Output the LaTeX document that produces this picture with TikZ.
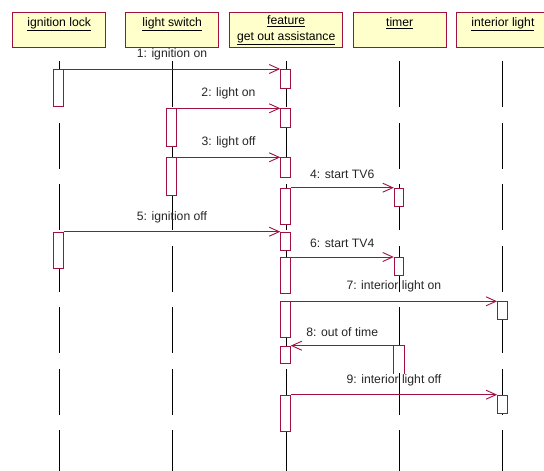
\documentclass[tikz,border=0pt]{standalone}
\usepackage{fontspec}
\setmainfont{Liberation Sans}
\usetikzlibrary{arrows.meta}
\usetikzlibrary{positioning}
\definecolor{umlred}{RGB}{160,16,64}
\definecolor{umlyellow}{RGB}{255,255,204}
\tikzset{object/.style={rectangle,draw=umlred,fill=umlyellow,line width=1.4pt,minimum width=93pt,minimum height=35pt,anchor=north west,align=center,inner sep=0pt,font=\fontsize{12.2}{16}\selectfont}}
\tikzset{lifeline/.style={draw=black,line width=0.9pt,dash pattern=on 46pt off 15.5pt}}
\tikzset{activation/.style={rectangle,draw=umlred,fill=white,line width=0.9pt,minimum width=9.5pt,inner sep=0pt,anchor=north}}
\tikzset{message/.style={draw=umlred,line width=0.9pt,-{Straight Barb[length=10pt,width=9pt]}}}
\tikzset{msg/.style={midway,above=8.5pt,inner sep=0pt,text=black!85,font=\fontsize{12.2}{14}\selectfont}}

\begin{document}
\begin{tikzpicture}[x=1pt,y=-1pt]
  \useasboundingbox (0,0) rectangle (544,471);

  % objects
  \node [object] (lock) at (12,12) {\underline{ignition lock}\\\mbox{}};
  \node [object] (switch) at (125,12) {\underline{light switch}\\\mbox{}};
  \node [object,minimum width=113pt] (feature) at (229,12)
  {
    \underline{feature}\\\underline{get out assistance}
  };
  \node [object] (timer) at (352.5,12) {\underline{timer}\\\mbox{}};
  \node [object] (light) at (455.7,12) {\underline{interior light}\\\mbox{}};

  % lifelines
  \foreach \obj in {lock,switch,feature,timer,light}
    \draw [lifeline] ([yshift=-13pt]\obj.south) -- ++(0,420);

  % activations
  \node [activation,minimum height=37.3pt] (L1) at (58.5,69) {};
  \node [activation,minimum height=36.3pt] (L2) at (58.5,231.7) {};
  \node [activation,minimum height=37.4pt] (S1) at (171.5,108.3) {};
  \node [activation,minimum height=37.7pt] (S2) at (171.5,157.3) {};
  \node [activation,minimum height=18.7pt] (F1) at (285.5,69) {};
  \node [activation,minimum height=18.5pt] (F2) at (285.5,108.3) {};
  \node [activation,minimum height=19.4pt] (F3) at (285.5,157.3) {};
  \node [activation,minimum height=36pt] (F4) at (285.5,187.7) {};
  \node [activation,minimum height=18.3pt] (F5) at (285.5,231.7) {};
  \node [activation,minimum height=36.3pt] (F6) at (285.5,257) {};
  \node [activation,minimum height=36pt] (F7) at (285.5,301.3) {};
  \node [activation,minimum height=17.6pt] (F8) at (285.5,345.7) {};
  \node [activation,minimum height=36.6pt] (F9) at (285.5,394.7) {};
  \node [activation,minimum height=18pt] (T1) at (399,187.7) {};
  \node [activation,minimum height=18pt] (T2) at (399,257) {};
  \node [activation,draw=none,minimum height=27pt] (T3) at (399,345.7) {};
  \draw [umlred,line width=0.9pt] (T3.south west) -- (T3.north west)
    -- (T3.north east) -- (T3.south east);
  \node [activation,minimum height=18pt] (I1) at (502.3,301.3) {};
  \node [activation,minimum height=18.3pt] (I2) at (502.3,394.7) {};

  % messages
  \draw [message] (L1.north east) -- (F1.north west) node [msg] {1: ignition on};
  \draw [message] (S1.north east) -- (F2.north west) node [msg] {2: light on};
  \draw [message] (S2.north east) -- (F3.north west) node [msg] {3: light off};
  \draw [message] (F4.north east) -- (T1.north west) node [msg] {4: start TV6};
  \draw [message] (L2.north east) -- (F5.north west) node [msg] {5: ignition off};
  \draw [message] (F6.north east) -- (T2.north west) node [msg] {6: start TV4};
  \draw [message] (F7.north east) -- (I1.north west) node [msg] {7: interior light on};
  \draw [message] (T3.north west) -- (F8.north east) node [msg] {8: out of time};
  \draw [message] (F9.north east) -- (I2.north west) node [msg] {9: interior light off};
\end{tikzpicture}
\end{document}
